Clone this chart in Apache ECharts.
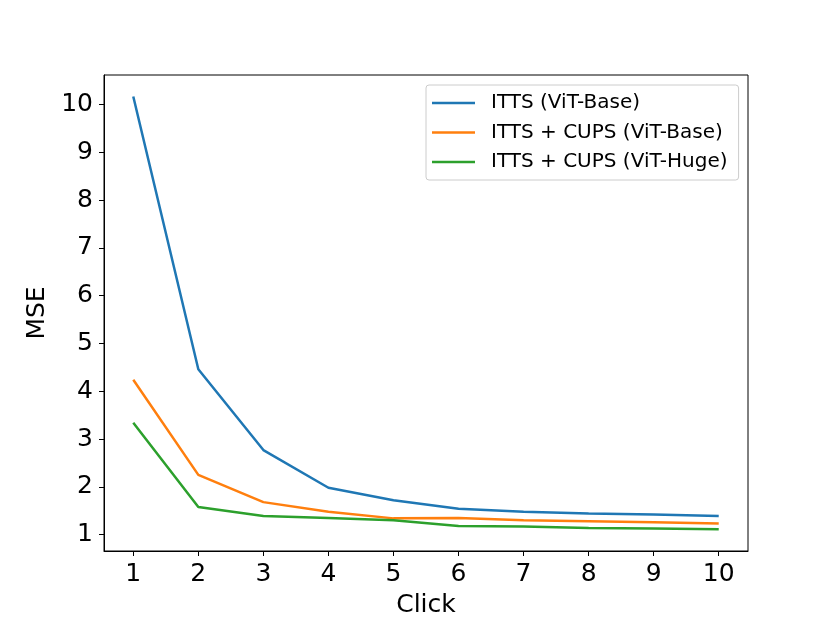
<!DOCTYPE html>
<html>
<head>
<meta charset="utf-8">
<script src="https://cdn.jsdelivr.net/npm/echarts@6/dist/echarts.min.js"></script>
<style>
html,body{margin:0;padding:0;background:#fff;}
#chart{width:830px;height:623px;}
</style>
</head>
<body>
<div id="chart"></div>
<script>
var clicks = [1, 2, 3, 4, 5, 6, 7, 8, 9, 10];
var ittsBase = [10.17, 4.46, 2.77, 1.98, 1.72, 1.54, 1.48, 1.44, 1.42, 1.39];
var cupsBase = [4.24, 2.25, 1.68, 1.48, 1.34, 1.35, 1.30, 1.28, 1.26, 1.23];
var cupsHuge = [3.34, 1.58, 1.39, 1.35, 1.30, 1.18, 1.17, 1.14, 1.13, 1.11];
var seriesNames = ['ITTS (ViT-Base)', 'ITTS + CUPS (ViT-Base)', 'ITTS + CUPS (ViT-Huge)'];
var yTicks = [1, 2, 3, 4, 5, 6, 7, 8, 9, 10];

function pairs(vals) { return clicks.map(function (c, i) { return [c, vals[i]]; }); }

var font = 'DejaVu Sans';
var chart = echarts.init(document.getElementById('chart'));
var colors = ['#1f77b4', '#ff7f0e', '#2ca02c'];
var allVals = [ittsBase, cupsBase, cupsHuge];
chart.setOption({
  animation: false,
  backgroundColor: '#fff',
  grid: { left: 104, right: 82, top: 75, bottom: 70, show: true, borderColor: '#000', borderWidth: 1, backgroundColor: 'transparent' },
  legend: {
    orient: 'vertical', left: 426, top: 85,
    data: seriesNames,
    icon: 'rect',
    itemWidth: 43, itemHeight: 2.5, itemGap: 9.5,
    padding: [8, 11, 8, 6],
    borderColor: '#cccccc', borderWidth: 1, borderRadius: 3,
    backgroundColor: 'rgba(255,255,255,0.8)',
    textStyle: { fontFamily: font, fontSize: 20, lineHeight: 19.5, color: '#000', padding: [0, 0, 0, 11] }
  },
  xAxis: {
    type: 'value', min: 0.55, max: 10.45,
    name: 'Click', nameLocation: 'middle', nameGap: 42,
    nameTextStyle: { fontFamily: font, fontSize: 25, color: '#000' },
    splitLine: { show: false },
    axisLine: { show: true, onZero: false, lineStyle: { color: '#000', width: 1 } },
    axisTick: { show: true, length: 5, lineStyle: { color: '#000' }, customValues: clicks },
    axisLabel: { fontFamily: font, fontSize: 25, color: '#000', margin: 11, customValues: clicks }
  },
  yAxis: {
    type: 'value', min: 0.657, max: 10.62,
    name: 'MSE', nameLocation: 'middle', nameGap: 52,
    nameTextStyle: { fontFamily: font, fontSize: 25, color: '#000' },
    splitLine: { show: false },
    axisLine: { show: true, onZero: false, lineStyle: { color: '#000', width: 1 } },
    axisTick: { show: true, length: 5, lineStyle: { color: '#000' }, customValues: yTicks },
    axisLabel: { fontFamily: font, fontSize: 25, color: '#000', margin: 11, customValues: yTicks }
  },
  series: seriesNames.map(function (n, i) {
    return {
      name: n, type: 'line', data: pairs(allVals[i]), symbol: 'none',
      lineStyle: { color: colors[i], width: 2.5 }, itemStyle: { color: colors[i] }
    };
  })
});
</script>
</body>
</html>
